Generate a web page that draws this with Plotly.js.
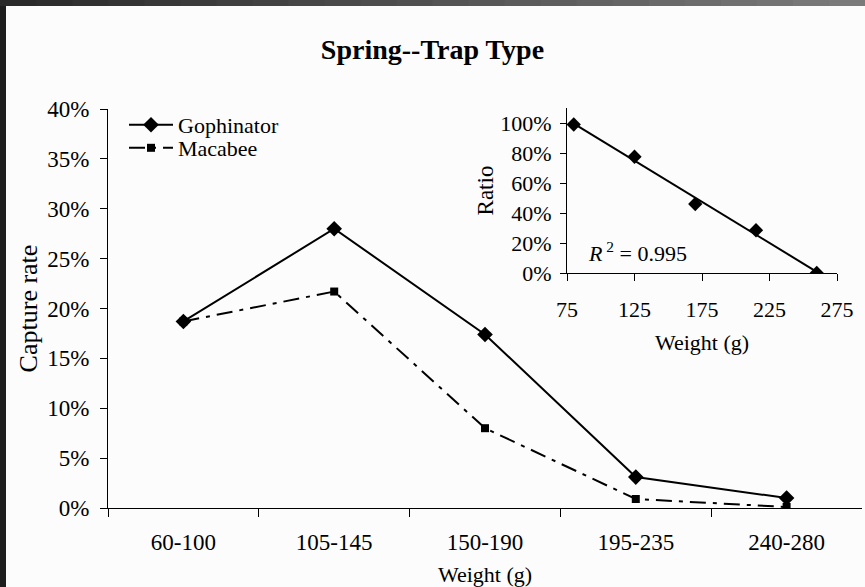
<!DOCTYPE html>
<html>
<head>
<meta charset="utf-8">
<script src="https://cdn.plot.ly/plotly-3.0.1.min.js"></script>
<style>html,body{margin:0;padding:0;background:#fcfcfc;}</style>
</head>
<body>
<div id="chart" style="width:865px;height:587px;"></div>
<script>
// ---- data ----
const weightClasses = ["60-100", "105-145", "150-190", "195-235", "240-280"];
const gophinator = [0.187, 0.280, 0.174, 0.031, 0.010];
const macabee = [0.187, 0.217, 0.080, 0.009, 0.001];
const insetWeight = [80, 125, 170, 215, 260];
const insetRatio = [0.99, 0.775, 0.46, 0.285, 0.0];
const insetXTicks = [75, 125, 175, 225, 275];
const insetYTicks = [0, 0.2, 0.4, 0.6, 0.8, 1.0];
const r2Label = "0.995";

// linear trendline via least squares of the inset data
const n = insetWeight.length;
const mx = insetWeight.reduce((a, b) => a + b, 0) / n;
const my = insetRatio.reduce((a, b) => a + b, 0) / n;
let sxy = 0, sxx = 0;
for (let i = 0; i < n; i++) { sxy += (insetWeight[i] - mx) * (insetRatio[i] - my); sxx += (insetWeight[i] - mx) ** 2; }
const slope = sxy / sxx, icpt = my - slope * mx;
const trendX = [insetWeight[0], insetWeight[n - 1]];
const trendY = trendX.map(x => icpt + slope * x);

const W = 865, H = 587;
const px = x => x / W;
const py = y => 1 - y / H;
const serif = "Liberation Serif, Times New Roman, serif";

const traces = [
  { x: weightClasses, y: gophinator, name: "Gophinator", type: "scatter", mode: "lines+markers",
    line: { color: "#000", width: 2 }, marker: { symbol: "diamond", size: 12, color: "#000" },
    xaxis: "x", yaxis: "y", legend: "legend" },
  { x: weightClasses, y: macabee, name: "Macabee", type: "scatter", mode: "lines+markers",
    line: { color: "#000", width: 2, dash: "16px,7px,4px,7px" }, marker: { symbol: "square", size: 8, color: "#000" },
    xaxis: "x", yaxis: "y", legend: "legend2" },
  { x: trendX, y: trendY, type: "scatter", mode: "lines", line: { color: "#000", width: 2 },
    showlegend: false, xaxis: "x2", yaxis: "y2", hoverinfo: "skip" },
  { x: insetWeight, y: insetRatio, type: "scatter", mode: "markers",
    marker: { symbol: "diamond", size: 11, color: "#000" }, showlegend: false, xaxis: "x2", yaxis: "y2" }
];

const shapes = [];
// dark frame: left bar and top gradient bar
shapes.push({ type: "rect", xref: "paper", yref: "paper", x0: 0, x1: px(6), y0: 0, y1: 1, fillcolor: "#1e1e1e", line: { width: 0 }, layer: "below" });
const steps = 24;
for (let i = 0; i < steps; i++) {
  const t = i / (steps - 1);
  const v = Math.round(0x2a + t * (0x7a - 0x2a));
  const c = "rgb(" + v + "," + v + "," + v + ")";
  shapes.push({ type: "rect", xref: "paper", yref: "paper", x0: i / steps, x1: (i + 1) / steps + 0.002, y0: py(6), y1: 1, fillcolor: c, line: { width: 0 }, layer: "below" });
}

const legendBase = { xanchor: "left", yanchor: "middle", bgcolor: "rgba(0,0,0,0)",
  font: { family: serif, size: 22, color: "#000" }, itemwidth: 44 };

const layout = {
  width: W, height: H,
  margin: { l: 0, r: 0, t: 0, b: 0 },
  paper_bgcolor: "#fcfcfc", plot_bgcolor: "rgba(0,0,0,0)",
  font: { family: serif, color: "#000", size: 22 },
  showlegend: true,
  title: { text: "<b>Spring--Trap Type</b>", font: { family: serif, size: 28, color: "#000" },
           x: 0.5, xanchor: "center", y: py(49), yanchor: "middle" },
  legend: Object.assign({}, legendBase, { x: px(124), y: py(125) }),
  legend2: Object.assign({}, legendBase, { x: px(124), y: py(148) }),
  xaxis: {
    domain: [px(108), px(862)], type: "category", range: [-0.5, 4.5],
    showline: true, linecolor: "#000", linewidth: 1, showgrid: false, zeroline: false,
    ticks: "outside", ticklen: 8, tickcolor: "#000", tickson: "boundaries",
    tickfont: { family: serif, size: 23 }, ticklabelstandoff: 13,
    title: { text: "Weight (g)", font: { family: serif, size: 22 }, standoff: 13 }, automargin: false
  },
  yaxis: {
    domain: [py(508), py(109)], range: [0, 0.4], dtick: 0.05, tickformat: ".0%",
    showline: true, linecolor: "#000", linewidth: 1, showgrid: false, zeroline: false,
    ticks: "outside", ticklen: 7, tickcolor: "#000",
    tickfont: { family: serif, size: 23 }, ticklabelstandoff: 6,
    title: { text: "Capture rate", font: { family: serif, size: 26 }, standoff: 2 }, automargin: false
  },
  xaxis2: {
    domain: [px(567), px(837)], range: [75, 275], tickvals: insetXTicks, anchor: "y2",
    showline: true, linecolor: "#000", linewidth: 1, showgrid: false, zeroline: false,
    ticks: "outside", ticklen: 7, tickcolor: "#000",
    tickfont: { family: serif, size: 22 }, ticklabelstandoff: 10,
    title: { text: "Weight (g)", font: { family: serif, size: 22 }, standoff: 13 }, automargin: false
  },
  yaxis2: {
    domain: [py(273), py(108)], range: [0, 1.1], tickvals: insetYTicks, tickformat: ".0%", anchor: "x2",
    showline: true, linecolor: "#000", linewidth: 1, showgrid: false, zeroline: false,
    ticks: "outside", ticklen: 6, tickcolor: "#000",
    tickfont: { family: serif, size: 22 }, ticklabelstandoff: 4,
    title: { text: "Ratio", font: { family: serif, size: 23 }, standoff: 0 }, automargin: false
  },
  annotations: [
    { xref: "x2", yref: "y2", x: 89, y: 0.14, text: "<i>R</i><sup> 2</sup> = " + r2Label, showarrow: false,
      font: { family: serif, size: 22, color: "#000" }, xanchor: "left", yanchor: "middle" }
  ],
  shapes: shapes
};

Plotly.newPlot("chart", traces, layout, { displayModeBar: false, staticPlot: true });
</script>
</body>
</html>
